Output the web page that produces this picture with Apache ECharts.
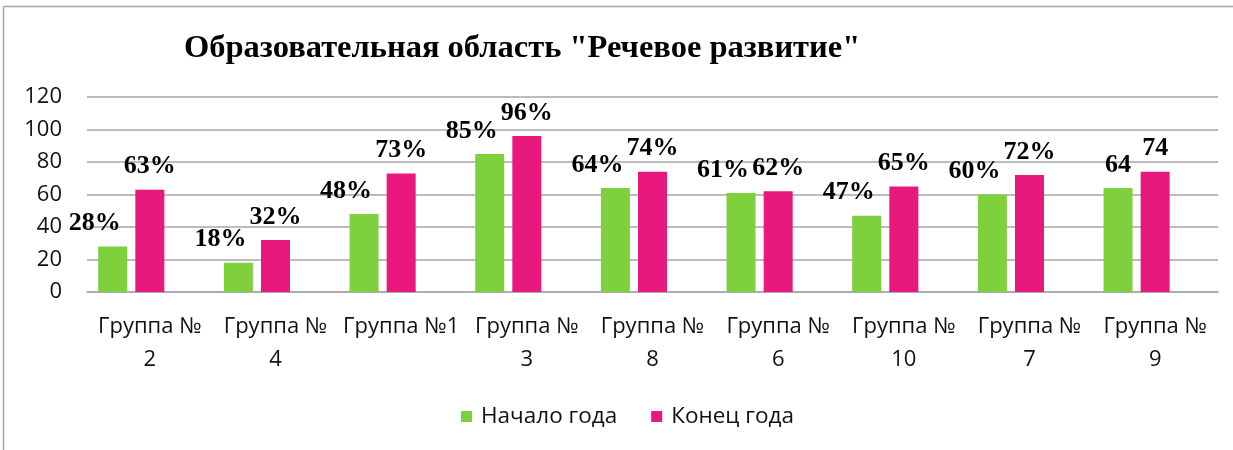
<!DOCTYPE html>
<html>
<head>
<meta charset="utf-8">
<script src="https://cdn.jsdelivr.net/npm/echarts@6/dist/echarts.min.js"></script>
<style>
html,body{margin:0;padding:0;background:#fff;}
#chart{width:1233px;height:450px;}
</style>
</head>
<body>
<div id="chart"></div>
<script>
const titleText = 'Образовательная область "Речевое развитие"';
const categories = ['Группа №\n2', 'Группа №\n4', 'Группа №1', 'Группа №\n3', 'Группа №\n8', 'Группа №\n6', 'Группа №\n10', 'Группа №\n7', 'Группа №\n9'];
const seriesNames = ['Начало года', 'Конец года'];
const startValues = [28, 18, 48, 85, 64, 61, 47, 60, 64];
const endValues = [63, 32, 73, 96, 74, 62, 65, 72, 74];
const startLabels = ['28%', '18%', '48%', '85%', '64%', '61%', '47%', '60%', '64'];
const endLabels = ['63%', '32%', '73%', '96%', '74%', '62%', '65%', '72%', '74'];
const yTicks = { min: 0, max: 120, interval: 20 };

const GREEN = '#7ed03c';
const PINK = '#e8187c';
const labelFont = { fontFamily: '"Liberation Serif", "Times New Roman", serif', fontWeight: 'bold', fontSize: 26, color: '#000' };

const startData = startValues.map((v, i) => ({
  value: v,
  label: { offset: [startLabels[i].endsWith('%') ? -18 : 0, 0] }
}));

const chart = echarts.init(document.getElementById('chart'), null, { renderer: 'canvas' });
chart.setOption({
  animation: false,
  backgroundColor: '#fff',
  title: {
    text: titleText,
    left: 179, top: 27,
    textStyle: { fontFamily: '"Liberation Serif", "Times New Roman", serif', fontWeight: 'bold', fontSize: 32.5, color: '#000' }
  },
  graphic: [
    { type: 'line', shape: { x1: 3.5, y1: 6.5, x2: 1233, y2: 6.5 }, style: { stroke: '#a6a6a6', lineWidth: 1.5 } },
    { type: 'line', shape: { x1: 3.5, y1: 6.5, x2: 3.5, y2: 450 }, style: { stroke: '#a6a6a6', lineWidth: 1.5 } }
  ],
  legend: {
    data: seriesNames,
    left: 456, top: 400,
    itemWidth: 11, itemHeight: 11, itemGap: 34,
    icon: 'rect',
    textStyle: { fontFamily: '"Open Sans", sans-serif', fontSize: 22.5, color: '#111', padding: [0, 0, 0, 4] }
  },
  grid: { left: 87, right: 15, top: 97, bottom: 158, containLabel: false },
  xAxis: {
    type: 'category',
    data: categories,
    axisLine: { show: true, lineStyle: { color: '#a6a6a6', width: 1.5 } },
    axisTick: { show: false },
    axisLabel: { interval: 0, margin: 18, lineHeight: 33, fontFamily: '"Open Sans", sans-serif', fontSize: 22, color: '#111' }
  },
  yAxis: {
    type: 'value',
    min: yTicks.min, max: yTicks.max, interval: yTicks.interval,
    axisLine: { show: false },
    axisTick: { show: false },
    splitLine: { lineStyle: { color: '#a6a6a6', width: 1.5 } },
    axisLabel: { margin: 25, fontFamily: '"Open Sans", sans-serif', fontSize: 22, color: '#111' }
  },
  series: [
    {
      name: seriesNames[0], type: 'bar', data: startData,
      barWidth: 29, barGap: '28%',
      itemStyle: { color: GREEN },
      label: Object.assign({ show: true, position: 'top', distance: 10, formatter: p => startLabels[p.dataIndex] }, labelFont)
    },
    {
      name: seriesNames[1], type: 'bar', data: endValues,
      barWidth: 29, barGap: '28%',
      itemStyle: { color: PINK },
      label: Object.assign({ show: true, position: 'top', distance: 10, formatter: p => endLabels[p.dataIndex] }, labelFont)
    },
    {
      name: 'spacer', type: 'bar', data: categories.map(() => null),
      barWidth: 29, barGap: '28%', silent: true
    }
  ]
});
</script>
</body>
</html>
